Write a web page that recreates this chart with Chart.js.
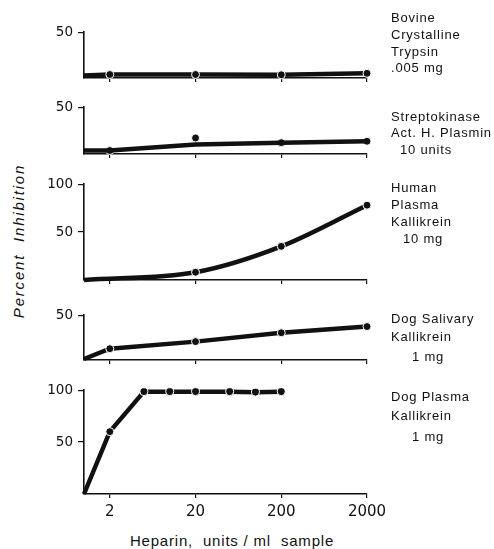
<!DOCTYPE html>
<html>
<head>
<meta charset="utf-8">
<script src="https://cdn.jsdelivr.net/npm/chart.js@4/dist/chart.umd.min.js"></script>
<style>
  body { margin: 0; background: #fff; }
  #wrap { position: relative; width: 494px; height: 549px; overflow: hidden; color: #111;
          font-family: "Liberation Sans", sans-serif; }
  #wrap canvas { position: absolute; left: 0; }
  .side { position: absolute; left: 391px; font-size: 13px; letter-spacing: 0.8px; white-space: nowrap; line-height: 16px; }
  #ytitle { position: absolute; left: 18px; top: 241px; transform: translate(-50%, -50%) rotate(-90deg);
            font-size: 15px; font-style: italic; letter-spacing: 1.8px; white-space: nowrap; }
  #xtitle { position: absolute; left: 232px; top: 532px; transform: translateX(-50%);
            font-size: 15px; letter-spacing: 0.8px; white-space: nowrap; }
</style>
</head>
<body>
<div id="wrap">
  <div id="ytitle">Percent&nbsp; Inhibition</div>
  <div id="xtitle">Heparin,&nbsp; units / ml&nbsp; sample</div>
</div>
<script>
// heparin doses (log axis) shown on every panel
const xTicks = [2, 20, 200, 2000];

// Bovine crystalline trypsin, .005 mg
const trypsinX = [1, 2, 20, 200, 2000];
const trypsinY = [2.5, 3.7, 3.7, 3.4, 5];

// Streptokinase act. human plasmin, 10 units: measured points and drawn curve
const plasminX = [2, 20, 200, 2000];
const plasminY = [3.6, 17, 12, 13.5];
const plasminFitX = [1, 2, 20, 200, 2000];
const plasminFitY = [3.5, 3.6, 10, 12, 13.5];

// Human plasma kallikrein, 10 mg
const humanX = [1, 20, 200, 2000];
const humanY = [0, 8, 35, 78];

// Dog salivary kallikrein, 1 mg
const salivaryX = [1, 2, 20, 200, 2000];
const salivaryY = [1, 12.5, 20.4, 30.3, 37.2];

// Dog plasma kallikrein, 1 mg
const dogPlasmaX = [1, 2, 5, 10, 20, 50, 100, 200];
const dogPlasmaY = [0, 60, 98.5, 98.5, 98.5, 98.5, 98, 98.5];

const INK = '#111';
const R = 4;

const pts = (xs, ys) => xs.map((x, i) => ({ x, y: ys[i] }));

function curve(xs, ys, extra) {
  return Object.assign({
    data: pts(xs, ys),
    borderColor: INK,
    borderWidth: 4.5,
    pointBackgroundColor: INK,
    pointBorderColor: '#fff',
    pointBorderWidth: 1,
    pointRadius: c => (c.raw && c.raw.x > 1 ? R : 0),
    clip: false,
    tension: 0,
  }, extra || {});
}

function dots(xs, ys) {
  return {
    data: pts(xs, ys),
    showLine: false,
    pointBackgroundColor: INK,
    pointBorderColor: '#fff',
    pointBorderWidth: 1,
    pointRadius: R,
    clip: false,
  };
}

function panel(p) {
  const padTop = 10;
  const axisH = p.bottomAxis ? 34 : 8;
  const cv = document.createElement('canvas');
  cv.width = 494;
  cv.height = p.bottom - p.top + padTop + axisH;
  cv.style.top = (p.top - padTop) + 'px';
  document.getElementById('wrap').appendChild(cv);

  new Chart(cv, {
    type: 'line',
    data: { datasets: p.datasets },
    options: {
      responsive: false,
      animation: false,
      layout: { padding: { top: padTop, right: 127, left: 0, bottom: 0 } },
      plugins: { legend: { display: false }, tooltip: { enabled: false } },
      scales: {
        x: {
          type: 'logarithmic', min: 1, max: 2000,
          afterBuildTicks: s => { s.ticks = xTicks.map(v => ({ value: v })); },
          afterFit: s => { s.height = axisH; },
          grid: { drawOnChartArea: false, tickLength: 4, color: INK, lineWidth: 1.2 },
          border: { display: true, color: INK, width: 1.6 },
          ticks: {
            display: !!p.bottomAxis, color: INK, padding: 5, maxRotation: 0, autoSkip: false,
            font: { family: 'DejaVu Sans', size: 15 },
            callback: v => String(v),
          },
        },
        y: {
          min: 0, max: p.yMax,
          afterBuildTicks: s => { s.ticks = p.yTicks.map(v => ({ value: v })); },
          afterFit: s => { s.width = 84; },
          grid: { drawOnChartArea: false, tickLength: 6, color: INK, lineWidth: 1.2 },
          border: { display: true, color: INK, width: 1.6 },
          ticks: {
            color: INK, padding: 5,
            font: { family: 'DejaVu Sans', size: 13.5 },
            callback: v => String(v),
          },
        },
      },
    },
  });
}

panel({ top: 29, bottom: 83, yMax: 50, yTicks: [50],
  datasets: [curve(trypsinX, trypsinY)] });
panel({ top: 104, bottom: 159, yMax: 50, yTicks: [50],
  datasets: [curve(plasminFitX, plasminFitY, { pointRadius: 0 }), dots(plasminX, plasminY)] });
panel({ top: 181, bottom: 285, yMax: 100, yTicks: [50, 100],
  datasets: [curve(humanX, humanY, { cubicInterpolationMode: 'monotone' })] });
panel({ top: 312, bottom: 365, yMax: 50, yTicks: [50],
  datasets: [curve(salivaryX, salivaryY)] });
panel({ top: 387, bottom: 494, yMax: 100, yTicks: [50, 100], bottomAxis: true,
  datasets: [curve(dogPlasmaX, dogPlasmaY)] });

// enzyme labels to the right of each panel: [text, centre y, indent]
const sideLabels = [
  ['Bovine', 18, 0], ['Crystalline', 35, 0], ['Trypsin', 52, 0], ['.005 mg', 68, 0],
  ['Streptokinase', 117, 0], ['Act. H. Plasmin', 133, 0], ['10 units', 150, 9],
  ['Human', 188, 0], ['Plasma', 205, 0], ['Kallikrein', 222, 0], ['10 mg', 239, 12],
  ['Dog Salivary', 319, 0], ['Kallikrein', 337, 0], ['1 mg', 357, 21],
  ['Dog Plasma', 397, 0], ['Kallikrein', 416, 0], ['1 mg', 437, 21],
];
const wrap = document.getElementById('wrap');
sideLabels.forEach(([t, cy, ind]) => {
  const d = document.createElement('div');
  d.className = 'side';
  d.textContent = t;
  d.style.top = (cy - 8) + 'px';
  d.style.left = (391 + ind) + 'px';
  wrap.appendChild(d);
});
</script>
</body>
</html>
